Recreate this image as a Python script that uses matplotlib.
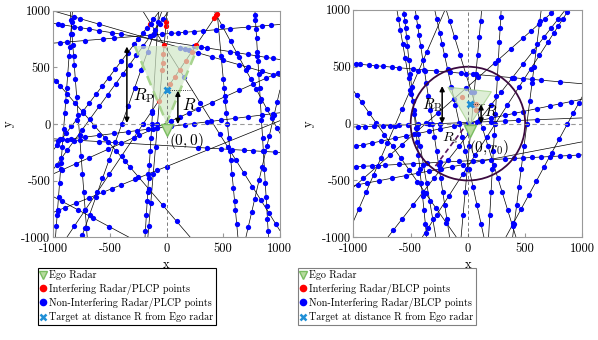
import numpy as np
import matplotlib
matplotlib.use('Agg')
import matplotlib.pyplot as plt
from matplotlib.lines import Line2D
from matplotlib.patches import Polygon, Circle

plt.rcParams['font.family'] = 'serif'
plt.rcParams['font.serif'] = ['cmr10']
plt.rcParams['mathtext.fontset'] = 'cm'
plt.rcParams['axes.unicode_minus'] = False

ticks = [-1000, -500, 0, 500, 1000]
tick_labels = ['-1000', '-500', '0', '500', '1000']

# left panel (PLCP): lines as (x0, y0, x1, y1), points as fractions along each line
plcp_lines = [
    (-1000, 890, 1000, 570),
    (-1000, 715, 1000, 880),
    (-1000, 1000, 1000, 420),
    (-1000, -440, 1000, 460),
    (-1000, -150, 1000, 100),
    (-1000, -130, 1000, -250),
    (-1000, -780, 1000, 30),
    (-1000, -230, -60, 1000),
    (-1000, -400, 20, 1000),
    (-750, -1000, -40, 1000),
    (-1000, 410, 210, -1000),
    (-980, -1000, -830, 1000),
    (-850, 1000, -700, -1000),
    (-190, -1000, -70, 1000),
    (5, 1000, -165, -1000),
    (-880, -1000, 465, 1000),
    (420, 1000, 1000, -80),
    (445, 1000, 630, -1000),
    (780, 1000, 900, -1000),
    (-210, 1000, 1000, -940),
    (1000, 300, 700, -1000),
    (-1000, -640, -330, -1000),
]
plcp_blue = [
    [0.02, 0.04, 0.09, 0.12, 0.16, 0.2, 0.26, 0.3, 0.62, 0.65, 0.68, 0.78, 0.81, 0.86, 0.9, 0.94, 0.97],
    [0.03, 0.06, 0.14, 0.22, 0.27, 0.44, 0.48, 0.52, 0.55, 0.58, 0.62, 0.66, 0.72, 0.78, 0.86, 0.92, 0.96],
    [0.09, 0.12, 0.2, 0.56, 0.58, 0.6, 0.64, 0.7, 0.75, 0.82, 0.86, 0.92, 0.97],
    [0.04, 0.1, 0.16, 0.24, 0.3, 0.38, 0.44, 0.52, 0.56, 0.6, 0.64, 0.7, 0.76, 0.82, 0.88, 0.94, 0.99],
    [0.02, 0.08, 0.14, 0.2, 0.27, 0.33, 0.37, 0.42, 0.46, 0.52, 0.58, 0.62, 0.68, 0.74, 0.8, 0.86, 0.92, 0.97],
    [0.03, 0.06, 0.12, 0.2, 0.24, 0.64, 0.68, 0.74, 0.79, 0.84, 0.88, 0.93, 0.98],
    [0.02, 0.05, 0.1, 0.16, 0.22, 0.26, 0.3, 0.36, 0.42, 0.46, 0.5],
    [0.04, 0.08, 0.12, 0.17, 0.22, 0.28, 0.34, 0.4, 0.46, 0.52, 0.58, 0.64, 0.7, 0.76, 0.8, 0.84, 0.88, 0.94],
    [0.03, 0.07, 0.12, 0.18, 0.25, 0.32, 0.4, 0.47, 0.54, 0.6, 0.66, 0.72, 0.78, 0.84, 0.88, 0.92, 0.95],
    [0.01, 0.04, 0.1, 0.18, 0.26, 0.34, 0.42, 0.5, 0.58, 0.66, 0.74, 0.82, 0.9, 0.95],
    [0.02, 0.05, 0.1, 0.16, 0.22, 0.3, 0.38, 0.46, 0.52, 0.56, 0.62, 0.7, 0.8, 0.9],
    [0.05, 0.1, 0.12, 0.18, 0.24, 0.3, 0.33, 0.4, 0.48, 0.55, 0.6, 0.66, 0.72, 0.8, 0.84, 0.9, 0.95],
    [0.04, 0.1, 0.15, 0.2, 0.24, 0.3, 0.38, 0.46, 0.55, 0.64, 0.72, 0.8, 0.88, 0.96],
    [0.03, 0.1, 0.16, 0.2, 0.26, 0.32, 0.38, 0.44, 0.5, 0.55],
    [0.5, 0.6, 0.72, 0.85, 0.95],
    [0.05, 0.12, 0.2, 0.28, 0.36, 0.44, 0.5, 0.56],
    [0.12, 0.25, 0.38, 0.48, 0.56, 0.64, 0.72, 0.8, 0.88, 0.96],
    [0.2, 0.3, 0.34, 0.4, 0.45, 0.5, 0.56, 0.62, 0.66, 0.72, 0.78, 0.84, 0.88, 0.94],
    [0.02, 0.04, 0.08, 0.12, 0.18, 0.22, 0.28, 0.34, 0.4, 0.48, 0.56, 0.62, 0.7, 0.76, 0.82, 0.86, 0.92, 0.97],
    [0.06, 0.3, 0.42, 0.5, 0.56, 0.62, 0.68, 0.74, 0.8, 0.86, 0.92, 0.97],
    [0.08, 0.17, 0.31, 0.38, 0.52, 0.61, 0.74, 0.83, 0.93],
    [0.12, 0.33, 0.52, 0.74],
]
plcp_red = [
    [], [], [], [], [], [], [],
    [0.907],
    [], [], [], [], [], [],
    [0.05, 0.065, 0.15, 0.19, 0.23, 0.26, 0.4],
    [0.985, 0.968, 0.85, 0.82, 0.78, 0.74, 0.71, 0.675],
    [0.03],
    [], [], [], [], [],
]

# right panel (BLCP)
blcp_lines = [
    (-1000, 526, 1000, 350),
    (-1000, -205, 1000, 215),
    (-1000, -30, 1000, 50),
    (-1000, -380, 1000, -275),
    (-1000, -545, 1000, -160),
    (-700, -1000, 850, 1000),
    (-1000, -560, 760, 1000),
    (-400, -1000, 880, 1000),
    (-560, 1000, -360, -1000),
    (-460, 1000, -160, -1000),
    (-290, 1000, 140, -1000),
    (-190, 1000, 420, -1000),
    (290, 1000, 180, -1000),
    (640, 1000, 390, -1000),
    (-1000, 290, -100, -1000),
    (1000, 240, 330, -1000),
    (-1000, -860, -200, 1000),
    (120, 1000, -60, -1000),
    (-620, 1000, -280, -1000),
]
blcp_blue = [
    [0.01, 0.03, 0.07, 0.1, 0.13, 0.17, 0.2, 0.26, 0.31, 0.36, 0.42, 0.47, 0.52, 0.7, 0.74, 0.78, 0.82, 0.9],
    [0.01, 0.04, 0.08, 0.12, 0.18, 0.23, 0.28, 0.33, 0.38, 0.44, 0.5, 0.55, 0.6, 0.66, 0.7, 0.74, 0.8, 0.86, 0.9, 0.95],
    [0.02, 0.05, 0.09, 0.13, 0.16, 0.2, 0.24, 0.28, 0.33, 0.38, 0.46, 0.54, 0.6, 0.66, 0.72, 0.8],
    [0.01, 0.04, 0.08, 0.14, 0.2, 0.26, 0.32, 0.38, 0.46, 0.52, 0.6, 0.66, 0.7, 0.74, 0.78, 0.82, 0.86, 0.9, 0.94, 0.98],
    [0.02, 0.06, 0.11, 0.17, 0.23, 0.28, 0.33, 0.38, 0.43, 0.48, 0.56],
    [0.03, 0.08, 0.14, 0.2, 0.26, 0.3, 0.34, 0.4, 0.46, 0.52, 0.58, 0.64, 0.7, 0.76, 0.82, 0.88, 0.92, 0.96],
    [0.05, 0.12, 0.18, 0.24, 0.3, 0.36, 0.42, 0.5, 0.56, 0.62, 0.7, 0.78, 0.84, 0.88, 0.92, 0.95, 0.98],
    [0.04, 0.1, 0.18, 0.28, 0.36, 0.44, 0.5, 0.58, 0.66, 0.74, 0.8, 0.86, 0.9, 0.93, 0.96, 0.99],
    [0.02, 0.05, 0.08, 0.12, 0.16, 0.22, 0.28, 0.34, 0.4, 0.46, 0.52, 0.58, 0.64, 0.7, 0.76, 0.82, 0.88, 0.94, 0.98],
    [0.03, 0.07, 0.11, 0.16, 0.22, 0.27, 0.32, 0.38, 0.44, 0.5, 0.56, 0.62, 0.68, 0.74, 0.8, 0.86, 0.92],
    [0.04, 0.1, 0.15, 0.2, 0.26, 0.34, 0.42, 0.5, 0.56, 0.62, 0.7, 0.78, 0.86, 0.94],
    [0.05, 0.12, 0.2, 0.28, 0.36, 0.44, 0.52, 0.6, 0.68, 0.74, 0.8, 0.88, 0.95],
    [0.03, 0.08, 0.14, 0.22, 0.3, 0.38, 0.46, 0.55, 0.62, 0.7, 0.8, 0.9],
    [0.05, 0.15, 0.25, 0.32, 0.4, 0.5, 0.6, 0.7, 0.78, 0.86, 0.94],
    [0.03, 0.08, 0.15, 0.22, 0.3, 0.38, 0.46, 0.54, 0.62, 0.7, 0.8, 0.9],
    [0.05, 0.12, 0.2, 0.3, 0.4, 0.5, 0.6, 0.7, 0.8, 0.9],
    [0.06, 0.14, 0.22, 0.3, 0.37, 0.45, 0.53, 0.62, 0.71, 0.8],
    [0.05, 0.12, 0.2, 0.28, 0.36, 0.42, 0.5, 0.6, 0.7, 0.8, 0.9],
    [0.04, 0.09, 0.15, 0.21, 0.3, 0.37, 0.44, 0.52, 0.6, 0.68, 0.76, 0.84, 0.92],
]
blcp_red_x = [-55, 70, 70]
blcp_red_y = [233, 175, 123]

legend_left = ['Ego Radar', 'Interfering Radar/PLCP points',
               'Non-Interfering Radar/PLCP points', 'Target at distance R from Ego radar']
legend_right = ['Ego Radar', 'Interfering Radar/BLCP points',
                'Non-Interfering Radar/BLCP points', 'Target at distance R from Ego radar']

BLUE = (0, 0, 1)
RED = (1, 0, 0)
TGT = '#1f8fd6'
EGO_FC = (0.72, 0.86, 0.62)
EGO_EC = (0.48, 0.74, 0.38)
FILL = (0.82, 0.91, 0.78)


def draw_field(ax, lines, blue_t, red_t=None):
    for i, (x0, y0, x1, y1) in enumerate(lines):
        ax.plot([x0, x1], [y0, y1], color='k', lw=0.5, zorder=1)
        tb = np.asarray(blue_t[i], dtype=float)
        ax.plot(x0 + (x1 - x0) * tb, y0 + (y1 - y0) * tb, 'o', color=BLUE,
                ms=3.8, mec='none', zorder=2)
        if red_t is not None and len(red_t[i]):
            tr = np.asarray(red_t[i], dtype=float)
            ax.plot(x0 + (x1 - x0) * tr, y0 + (y1 - y0) * tr, 'o', color=RED,
                    ms=3.8, mec='none', zorder=2)


def style_axes(ax):
    ax.set_xlim(-1000, 1000)
    ax.set_ylim(-1000, 1000)
    ax.set_xticks(ticks)
    ax.set_xticklabels(tick_labels)
    ax.set_yticks(ticks)
    ax.set_yticklabels(tick_labels)
    ax.tick_params(direction='in', length=3, color='0.6', labelsize=9)
    ax.tick_params(axis='x', pad=4)
    ax.tick_params(axis='y', pad=2)
    for s in ax.spines.values():
        s.set_color('0.6')
        s.set_linewidth(0.8)
    ax.set_xlabel('x', fontsize=9, labelpad=3)
    ax.set_ylabel('y', fontsize=9, labelpad=5)
    ax.axhline(0, color='0.6', lw=0.8, ls=(0, (4, 3)), zorder=4)
    ax.axvline(0, color='0.4', lw=0.6, ls=(0, (4, 3)), zorder=4)


def arrow(ax, x, y0, y1):
    ax.annotate('', xy=(x, y1), xytext=(x, y0),
                arrowprops=dict(arrowstyle='<|-|>', color='k', lw=1.1,
                                mutation_scale=7, shrinkA=0, shrinkB=0), zorder=6)


fig = plt.figure(figsize=(5.98, 3.40), dpi=100)
ax1 = fig.add_axes([0.089, 0.302, 0.379, 0.666])
ax2 = fig.add_axes([0.591, 0.302, 0.383, 0.669])

# left panel
draw_field(ax1, plcp_lines, plcp_blue, plcp_red)
ax1.add_patch(Polygon([(0, 0), (-280, 690), (280, 690)], closed=True,
                      facecolor=FILL, edgecolor='none', alpha=0.7, zorder=3))
ax1.plot([-280, 0, 280], [690, 10, 690], color=(0.66, 0.83, 0.56), lw=1.8,
         ls=(0, (4, 2.5)), zorder=3.5)
style_axes(ax1)
ax1.plot([0, 230], [300, 300], color='k', lw=0.6, ls=':', zorder=5)
arrow(ax1, -350, 10, 685)
arrow(ax1, 100, 0, 295)
ax1.text(-295, 250, r'$R_{\mathrm{P}}$', fontsize=12, va='center', zorder=7)
ax1.text(140, 170, r'$R$', fontsize=12, va='center', zorder=7)
ax1.text(20, -145, r'$(0,0)$', fontsize=11, va='center', zorder=7)
ax1.plot(0, -55, 'v', ms=9, mfc=EGO_FC, mec=EGO_EC, zorder=6)
ax1.plot(0, 300, 'x', color=TGT, ms=5, mew=2, zorder=6)

# right panel
draw_field(ax2, blcp_lines, blcp_blue)
ax2.plot(blcp_red_x, blcp_red_y, 'o', color=RED, ms=3.8, mec='none', zorder=2)
ax2.add_patch(Polygon([(15, -15), (-175, 320), (205, 280)], closed=True,
                      facecolor=FILL, edgecolor=(0.6, 0.8, 0.5), lw=0.8,
                      alpha=0.7, zorder=3))
ax2.add_patch(Circle((0, 0), 500, fill=False, edgecolor='#3b0a3f', lw=1.3, zorder=4))
style_axes(ax2)
ax2.plot([-40, -300], [-45, -395], color='#5a1a5e', lw=1.2, ls=(0, (3, 2)), zorder=5)
ax2.plot([15, 150], [175, 175], color='k', lw=0.6, ls=':', zorder=5)
arrow(ax2, -225, 0, 330)
arrow(ax2, 115, 0, 170)
ax2.text(-400, 160, r'$R_{\mathrm{B}}$', fontsize=11, va='center', zorder=7)
ax2.text(140, 110, r'$R$', fontsize=11, va='center', zorder=7)
ax2.text(-230, -130, r'$R_{\mathrm{s}}$', fontsize=10, va='center', zorder=7)
ax2.text(5, -215, r'$(0,r_0)$', fontsize=11, va='center', zorder=7)
ax2.plot(15, -65, 'v', ms=9, mfc=EGO_FC, mec=EGO_EC, zorder=6)
ax2.plot(15, 175, 'x', color=TGT, ms=5, mew=2, zorder=6)


def handles():
    return [
        Line2D([], [], ls='none', marker='v', ms=6, mfc=EGO_FC, mec=EGO_EC),
        Line2D([], [], ls='none', marker='o', ms=5.5, color=RED, mec='none'),
        Line2D([], [], ls='none', marker='o', ms=5.5, color=BLUE, mec='none'),
        Line2D([], [], ls='none', marker='x', ms=4.5, mew=1.8, color=TGT),
    ]


leg_kw = dict(loc='upper left', fontsize=7.3, frameon=True, fancybox=False,
              handlelength=0.6, handletextpad=0.25, borderpad=0.25,
              labelspacing=0.32, borderaxespad=0, framealpha=1)
l1 = fig.legend(handles(), legend_left, bbox_to_anchor=(0.063, 0.212), **leg_kw)
l1.get_frame().set_edgecolor('k')
l1.get_frame().set_linewidth(0.8)
l2 = fig.legend(handles(), legend_right, bbox_to_anchor=(0.498, 0.212), **leg_kw)
l2.get_frame().set_edgecolor('0.5')
l2.get_frame().set_linewidth(0.8)

fig.savefig('out.png', dpi=100)
